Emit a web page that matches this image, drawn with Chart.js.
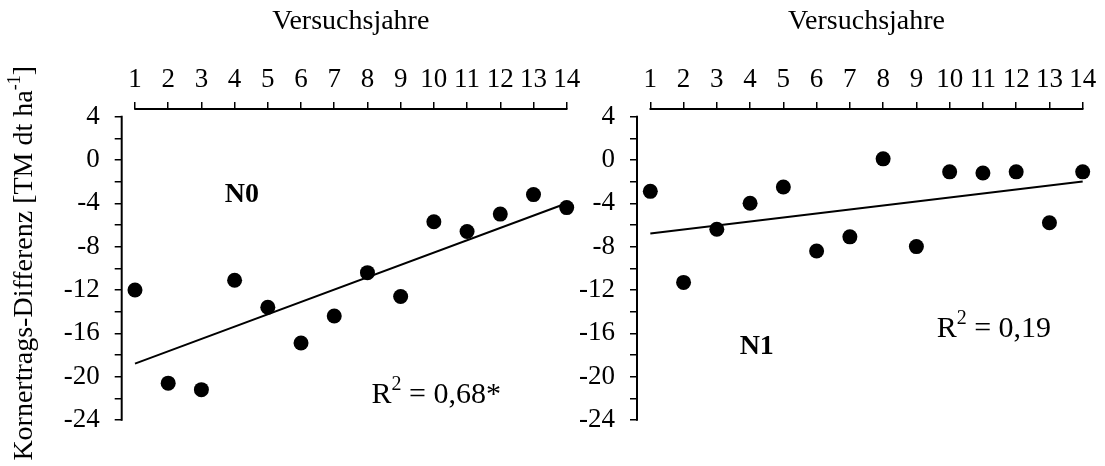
<!DOCTYPE html>
<html><head><meta charset="utf-8">
<script src="https://cdn.jsdelivr.net/npm/chart.js@4.4.1/dist/chart.umd.min.js"></script>
<style>
html,body{margin:0;padding:0;background:#fff;}
#wrap{position:relative;width:1105px;height:466px;overflow:hidden;background:#fff;}
#c1{position:absolute;left:0;top:0;}
#c2{position:absolute;left:560px;top:0;}
</style></head><body>
<div id="wrap"><canvas id="c1" width="590" height="466"></canvas><canvas id="c2" width="545" height="466"></canvas></div>
<script>
// ---- data ----
const years = [1,2,3,4,5,6,7,8,9,10,11,12,13,14];
const n0Values = [-12.0, -20.6, -21.2, -11.1, -13.6, -16.9, -14.4, -10.4, -12.6, -5.7, -6.6, -5.0, -3.2, -4.4];
const n1Values = [-2.9, -11.3, -6.4, -4.0, -2.5, -8.4, -7.1, 0.1, -8.0, -1.1, -1.2, -1.1, -5.8, -1.1];
const n0TrendEnds = [-18.8, -4.0];   // trend line at first / last year
const n1TrendEnds = [-6.8, -2.0];
const xTickValues = years;
const yTickValues = [4,2,0,-2,-4,-6,-8,-10,-12,-14,-16,-18,-20,-22,-24];
const yLabelValues = [4,0,-4,-8,-12,-16,-20,-24];
const xTitleText = 'Versuchsjahre';
const yTitleMain = 'Kornertrags-Differenz [TM dt ha';
const yTitleSup = '-1';
const yTitleEnd = ']';

const FONT = "'Liberation Serif','Times New Roman',serif";

function drawRich(ctx, x, y, parts, align) {
  ctx.textBaseline = 'alphabetic';
  ctx.textAlign = 'left';
  let w = 0;
  parts.forEach(p => { ctx.font = p.font; p.w = ctx.measureText(p.text).width; w += p.w; });
  let cx = align === 'center' ? x - w / 2 : x;
  parts.forEach(p => { ctx.font = p.font; ctx.fillText(p.text, cx, y - (p.rise || 0)); cx += p.w; });
}

function makeChart(canvas, values, trendEnds, notes, opts) {
  const annot = {
    id: 'annot',
    afterDraw(chart) {
      const ctx = chart.ctx;
      const xs = chart.scales.x, ys = chart.scales.y;
      const area = chart.chartArea;
      ctx.save();
      ctx.strokeStyle = '#000';
      ctx.fillStyle = '#000';
      ctx.lineWidth = 2;
      ctx.lineCap = 'butt';
      // top x axis line from first to last year
      ctx.beginPath();
      ctx.moveTo(xs.getPixelForValue(xTickValues[0]) - 0.75, area.top);
      ctx.lineTo(xs.getPixelForValue(xTickValues[xTickValues.length - 1]) + 0.75, area.top);
      ctx.stroke();
      // y axis line from top to bottom tick
      ctx.beginPath();
      ctx.moveTo(area.left, ys.getPixelForValue(yTickValues[0]) - 0.75);
      ctx.lineTo(area.left, ys.getPixelForValue(yTickValues[yTickValues.length - 1]) + 0.75);
      ctx.stroke();
      // x title
      const tx = (xs.getPixelForValue(xTickValues[0]) + xs.getPixelForValue(xTickValues[xTickValues.length - 1])) / 2;
      drawRich(ctx, tx, 29, [{text: xTitleText, font: '28px ' + FONT}], 'center');
      // notes
      notes.forEach(n => {
        const px = xs.getPixelForValue(n.x), py = ys.getPixelForValue(n.y);
        const base = py + n.size * 0.33;
        if (n.sup) {
          drawRich(ctx, px, base, [
            {text: n.text, font: (n.bold ? 'bold ' : '') + n.size + 'px ' + FONT},
            {text: n.sup, font: Math.round(n.size * 0.65) + 'px ' + FONT, rise: n.size * 0.42},
            {text: n.rest, font: n.size + 'px ' + FONT}
          ], 'center');
        } else {
          drawRich(ctx, px, base, [{text: n.text, font: (n.bold ? 'bold ' : '') + n.size + 'px ' + FONT}], 'center');
        }
      });
      // y title
      if (opts.yTitle) {
        const cy = (ys.getPixelForValue(yTickValues[0]) + ys.getPixelForValue(yTickValues[yTickValues.length - 1])) / 2 - 5;
        ctx.translate(32, cy);
        ctx.rotate(-Math.PI / 2);
        drawRich(ctx, 0, 0, [
          {text: yTitleMain, font: '28px ' + FONT},
          {text: yTitleSup, font: '18px ' + FONT, rise: 12},
          {text: yTitleEnd, font: '28px ' + FONT}
        ], 'center');
      }
      ctx.restore();
    }
  };

  return new Chart(canvas, {
    type: 'scatter',
    data: {
      datasets: [
        {
          data: years.map((x, i) => ({x: x, y: values[i]})),
          showLine: false,
          pointRadius: 7.5,
          pointHoverRadius: 7.5,
          pointBackgroundColor: '#000',
          pointBorderWidth: 0,
          clip: false
        },
        {
          data: [{x: years[0], y: trendEnds[0]}, {x: years[years.length - 1], y: trendEnds[1]}],
          showLine: true,
          borderColor: '#000',
          borderWidth: 2,
          pointRadius: 0,
          pointHoverRadius: 0,
          clip: false
        }
      ]
    },
    options: {
      responsive: false,
      animation: false,
      events: [],
      layout: {padding: {left: 0, top: 0, right: opts.padRight, bottom: 46}},
      plugins: {legend: {display: false}, tooltip: {enabled: false}},
      scales: {
        x: {
          type: 'linear',
          position: 'top',
          min: 0.6,
          max: 14,
          afterBuildTicks: s => { s.ticks = xTickValues.map(v => ({value: v})); },
          afterFit: s => { s.height = 109; },
          ticks: {autoSkip: false, maxRotation: 0, minRotation: 0, padding: 6, color: '#000',
                  font: {family: FONT, size: 27}, callback: v => String(v)},
          grid: {drawOnChartArea: false, drawTicks: true, tickLength: 7, color: '#000', lineWidth: 1.5},
          border: {display: false}
        },
        y: {
          type: 'linear',
          position: 'left',
          min: -24,
          max: 4.7,
          afterBuildTicks: s => { s.ticks = yTickValues.map(v => ({value: v})); },
          afterFit: s => { s.width = opts.yWidth; },
          ticks: {autoSkip: false, padding: 15, color: '#000', font: {family: FONT, size: 27},
                  callback: v => (yLabelValues.includes(v) ? String(v) : '')},
          grid: {drawOnChartArea: false, drawTicks: true, tickLength: 7, color: '#000', lineWidth: 1.5},
          border: {display: false}
        }
      }
    },
    plugins: [annot]
  });
}

makeChart(document.getElementById('c1'), n0Values, n0TrendEnds, [
  {text: 'N0', x: 4.22, y: -3.0, size: 28, bold: true},
  {text: 'R', sup: '2', rest: ' = 0,68*', x: 10.07, y: -21.5, size: 30}
], {padRight: 23.3, yWidth: 121.7, yTitle: true});

makeChart(document.getElementById('c2'), n1Values, n1TrendEnds, [
  {text: 'N1', x: 4.2, y: -17.1, size: 28, bold: true},
  {text: 'R', sup: '2', rest: ' = 0,19', x: 11.33, y: -15.4, size: 30}
], {padRight: 22.3, yWidth: 77, yTitle: false});
</script>
</body></html>
